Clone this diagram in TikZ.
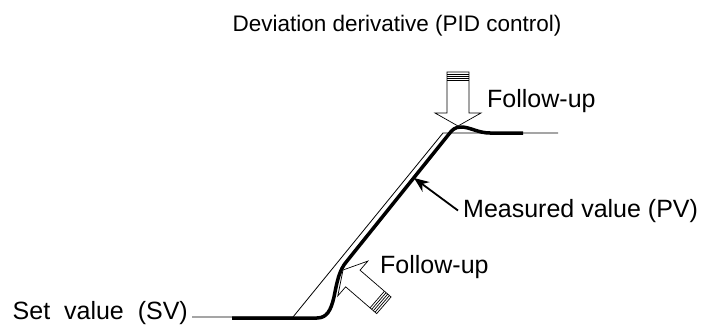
\documentclass[tikz,border=0pt]{standalone}
\usepackage{fontspec}
\setmainfont{Liberation Sans}
\usepackage{tikz}
\usetikzlibrary{arrows.meta}
\newcommand*{\lw}{3.5}
% hollow block arrow, tip at (#1, #2), turned by #3
\newcommand*{\followarrow}[3]{%
  \begin{scope}[shift={(#1, #2)}, rotate=#3]
    \draw[blockarr] (0, 0) -- (23, -13) -- (11, -13) -- (11, -54)
      -- (-11, -54) -- (-11, -13) -- (-23, -13) -- cycle;
    \foreach \k in {-51.8, -49.6, -47.4, -45.2} {
      \draw[blockarr] (-11, \k) -- (11, \k);
    }
  \end{scope}}

\begin{document}
\begin{tikzpicture}[
   x=1pt, y=-1pt,
   font=\fontsize{25}{30}\selectfont,
   thinline/.style={line width=0.8, color=black},
   thickline/.style={line width=\lw, color=black, line join=round},
   blockarr/.style={draw=black, fill=white, line width=0.7},
   txt/.style={inner sep=0, text=black},
   pvarrow/.style={-{Stealth[length=15, width=12]}, line width=1.8}
  ]

  \useasboundingbox (0, 0) rectangle (702, 327);

  % Labels
  \node[txt, anchor=base, font=\fontsize{22.5}{27}\selectfont] (title) at (397, 31)
    {Deviation derivative (PID control)};
  \node[txt, anchor=base east] (sv) at (188, 319) {Set\hspace{0.556em}value\hspace{0.556em}(SV)};
  \node[txt, anchor=base west] (topfu) at (487, 107) {Follow-up};
  \node[txt, anchor=base west] (botfu) at (380, 273) {Follow-up};
  \node[txt, anchor=base west] (pv) at (463, 217) {Measured value (PV)};

  % Set value
  \coordinate (lowcorner) at (293, 317);
  \coordinate (highcorner) at (443, 133);
  \coordinate (thinend) at (558, 133);
  \draw[thinline] ([xshift=4pt, yshift=2pt]sv.base east) -- (lowcorner)
    -- (highcorner) -- (thinend);

  % Measured value
  \draw[thickline] (232, 318) -- (317, 318)
    .. controls (327, 318) and (331, 310) .. (334, 297)
    .. controls (337, 282) and (339, 270) .. (347, 261)
    -- (449, 134)
    .. controls (452, 130) and (455, 127) .. (461, 127)
    .. controls (470, 127) and (478, 133) .. (490, 133)
    -- (523, 133);

  \coordinate (pvpoint) at (414, 178);
  \draw[pvarrow] ([xshift=-5pt]pv.west) -- (pvpoint);

  \followarrow{458}{126}{0}
  \followarrow{343}{270}{229.2}

\end{tikzpicture}
\end{document}
